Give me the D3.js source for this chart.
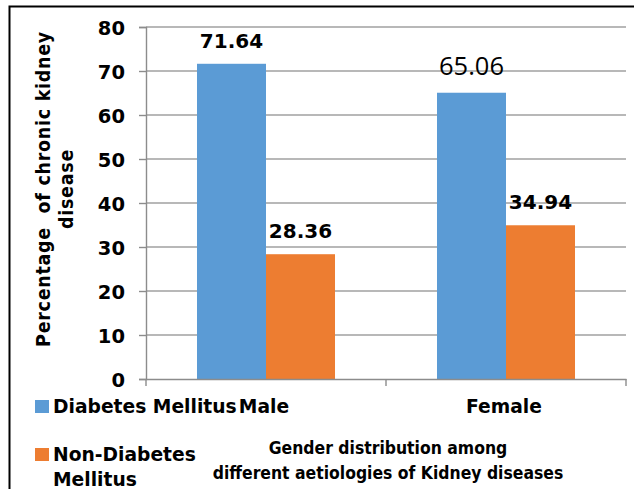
<!DOCTYPE html>
<html>
<head>
<meta charset="utf-8">
<script src="https://cdn.jsdelivr.net/npm/d3@7"></script>
<style>
  html, body { margin: 0; padding: 0; background: #fff; overflow: hidden; }
  svg { display: block; }
</style>
</head>
<body>
<svg id="chart" width="634" height="489"></svg>
<script>
// Gender groups on the x axis
const genders = ["Male", "Female"];
// Aetiology series
const seriesNames = ["Diabetes Mellitus", "Non-Diabetes Mellitus"];
const diabetesValues = [71.64, 65.06];
const nonDiabetesValues = [28.36, 34.94];
const seriesColors = ["#5b9bd5", "#ed7d31"];
const yTicks = [0, 10, 20, 30, 40, 50, 60, 70, 80];
const yTitleLines = ["Percentage  of chronic kidney", "disease"];
const xTitleLines = ["Gender distribution among", "different aetiologies of Kidney diseases"];

const svg = d3.select("#chart");
const W = 634, H = 489;
const plot = { left: 146, right: 626, top: 27, bottom: 379 };

const tahoma = "'DejaVu Sans', Verdana, sans-serif";
const calibri = "'DejaVu Sans Condensed', 'DejaVu Sans', sans-serif";

// chart frame (runs off the right and bottom edges)
svg.append("rect")
  .attr("x", 9.5).attr("y", 6.5)
  .attr("width", W).attr("height", H)
  .attr("fill", "none").attr("stroke", "#000").attr("stroke-width", 2);

const y = d3.scaleLinear().domain([0, 80]).range([plot.bottom, plot.top]);
const x = d3.scaleBand().domain(genders).range([plot.left, plot.right]);
const xInner = d3.scaleBand().domain(seriesNames).range([0, x.bandwidth()]).paddingOuter(0.739);

// gridlines
svg.append("g")
  .selectAll("line")
  .data(yTicks.filter(t => t > 0))
  .join("line")
  .attr("x1", plot.left).attr("x2", plot.right)
  .attr("y1", d => y(d)).attr("y2", d => y(d))
  .attr("stroke", "#a0a0a0").attr("stroke-width", 1.4);

// bars
const rows = genders.map((g, i) => ({
  gender: g,
  values: [
    { series: seriesNames[0], value: diabetesValues[i], color: seriesColors[0] },
    { series: seriesNames[1], value: nonDiabetesValues[i], color: seriesColors[1] }
  ]
}));

const groups = svg.append("g")
  .selectAll("g")
  .data(rows)
  .join("g")
  .attr("transform", d => `translate(${x(d.gender)},0)`);

groups.selectAll("rect")
  .data(d => d.values)
  .join("rect")
  .attr("x", d => xInner(d.series))
  .attr("width", xInner.bandwidth())
  .attr("y", d => y(d.value))
  .attr("height", d => y(0) - y(d.value))
  .attr("fill", d => d.color);

// value labels (the female diabetes label is set in a plain, larger face)
const isPlain = d => d.gender === "Female" && d.series === seriesNames[0];
groups.selectAll("text")
  .data(d => d.values.map(v => Object.assign({ gender: d.gender }, v)))
  .join("text")
  .attr("x", d => xInner(d.series) + xInner.bandwidth() / 2)
  .attr("y", d => y(d.value) - (isPlain(d) ? 18 : 16))
  .attr("text-anchor", "middle")
  .attr("font-family", d => isPlain(d) ? "'Open Sans', sans-serif" : tahoma)
  .attr("font-weight", d => isPlain(d) ? "normal" : "bold")
  .attr("font-size", d => isPlain(d) ? 25.5 : 20)
  .attr("fill", "#000")
  .text(d => d.value.toFixed(2));

// y axis
const yAxis = svg.append("g")
  .attr("transform", `translate(${plot.left},0)`)
  .call(d3.axisLeft(y).tickValues(yTicks).tickSize(7).tickPadding(14).tickFormat(d3.format("d")));
yAxis.select(".domain").attr("stroke", "#8c8c8c").attr("stroke-width", 1.4);
yAxis.selectAll(".tick line").attr("stroke", "#8c8c8c").attr("stroke-width", 1.4);
yAxis.selectAll(".tick text")
  .attr("font-family", tahoma).attr("font-weight", "bold")
  .attr("font-size", 19.5).attr("fill", "#000").attr("dy", "0.36em");

// x axis
const xAxis = svg.append("g")
  .attr("transform", `translate(0,${plot.bottom})`)
  .call(d3.axisBottom(x).tickSize(0).tickPadding(0));
xAxis.select(".domain").attr("stroke", "#8c8c8c").attr("stroke-width", 1.4);
xAxis.selectAll(".tick text").remove();
xAxis.selectAll(".tick line").remove();
// boundary ticks between categories
const boundaries = [plot.left, ...genders.map(g => x(g) + x.bandwidth())];
xAxis.selectAll("line.bound")
  .data(boundaries)
  .join("line")
  .attr("class", "bound")
  .attr("x1", d => d).attr("x2", d => d)
  .attr("y1", 0).attr("y2", 7)
  .attr("stroke", "#8c8c8c").attr("stroke-width", 1.4);

// category labels
svg.append("g")
  .selectAll("text")
  .data(genders)
  .join("text")
  .attr("x", d => x(d) + x.bandwidth() / 2 - 2)
  .attr("y", 413)
  .attr("text-anchor", "middle")
  .attr("font-family", tahoma).attr("font-weight", "bold")
  .attr("font-size", 18.7).attr("fill", "#000")
  .text(d => d);

// y axis title
const yTitle = svg.append("text")
  .attr("transform", "translate(50,189) rotate(-90)")
  .attr("text-anchor", "middle")
  .attr("font-family", calibri).attr("font-weight", "bold")
  .attr("font-size", 19.5).attr("letter-spacing", 0.7).attr("fill", "#000");
yTitle.selectAll("tspan")
  .data(yTitleLines)
  .join("tspan")
  .attr("x", 0)
  .attr("y", (d, i) => i * 23)
  .style("white-space", "pre")
  .text(d => d);

// x axis title
const xTitle = svg.append("text")
  .attr("text-anchor", "middle")
  .attr("font-family", calibri).attr("font-weight", "bold")
  .attr("font-size", 17.4).attr("fill", "#000");
xTitle.selectAll("tspan")
  .data(xTitleLines)
  .join("tspan")
  .attr("x", 388)
  .attr("y", (d, i) => 454 + i * 25)
  .text(d => d);

// legend
const legend = svg.append("g");
const legendRows = [
  { lines: ["Diabetes Mellitus"], color: seriesColors[0], top: 400 },
  { lines: ["Non-Diabetes", "Mellitus"], color: seriesColors[1], top: 448 }
];
legendRows.forEach(r => {
  legend.append("rect")
    .attr("x", 35).attr("y", r.top)
    .attr("width", 14).attr("height", 13)
    .attr("fill", r.color);
  const t = legend.append("text")
    .attr("font-family", tahoma).attr("font-weight", "bold")
    .attr("font-size", 18.7).attr("fill", "#000");
  t.selectAll("tspan")
    .data(r.lines)
    .join("tspan")
    .attr("x", 53)
    .attr("y", (d, i) => r.top + 13 + i * 25)
    .text(d => d);
});
</script>
</body>
</html>
